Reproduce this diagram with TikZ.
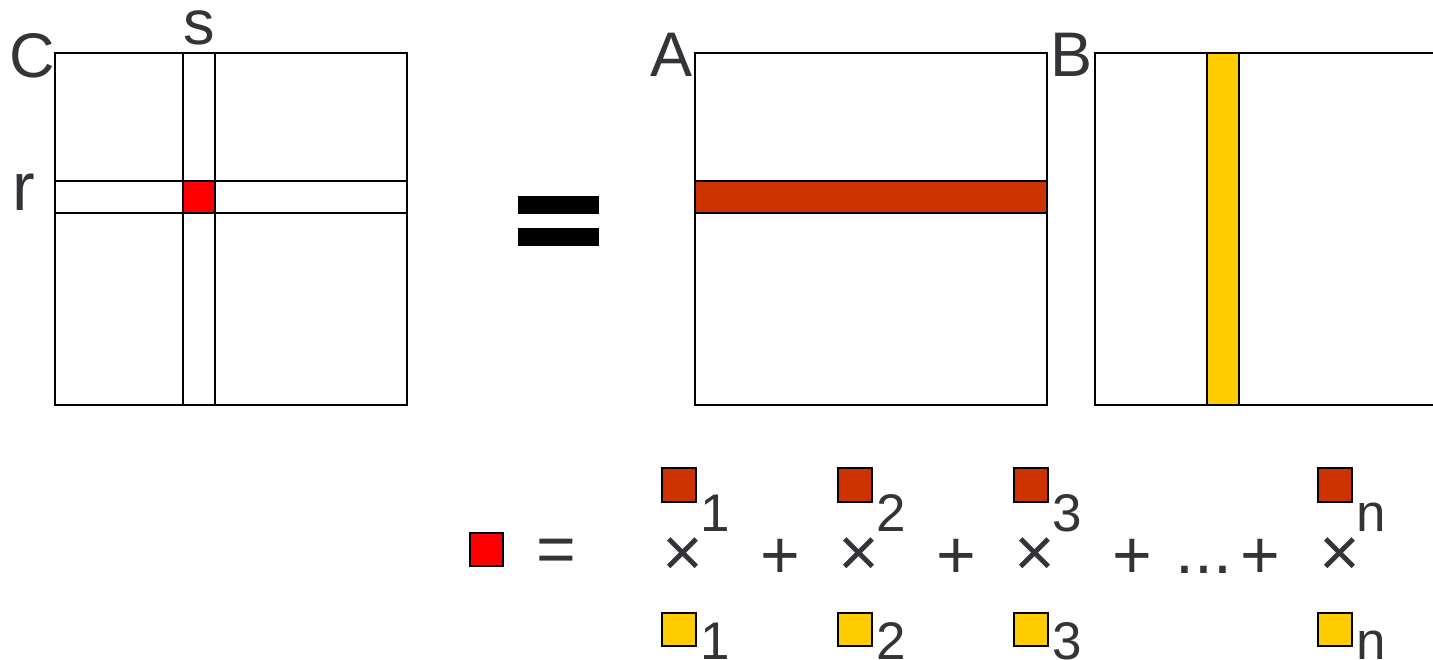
\documentclass[tikz,border=0pt]{standalone}
\usepackage{fontspec}
\setmainfont{Liberation Sans}
\definecolor{txt}{RGB}{52,52,56}
\definecolor{rowc}{RGB}{204,51,0}
\definecolor{colc}{RGB}{255,204,0}
\definecolor{cellc}{RGB}{255,0,0}
\begin{document}
\begin{tikzpicture}[x=1pt,y=-1pt,
  frame/.style={draw=black,line width=2pt},
  sq/.style={draw=black,line width=2pt},
  lbl/.style={text=txt,inner sep=0pt,font=\fontsize{63}{63}\selectfont},
  sub/.style={text=txt,inner sep=0pt,anchor=base west,font=\fontsize{53}{53}\selectfont},
  op/.style={text=txt,inner sep=0pt,font=\fontsize{68}{68}\selectfont},
  times/.style={text=txt,inner sep=0pt,font=\fontsize{70}{70}\selectfont}]
\useasboundingbox (0,0) rectangle (1433,660);
% matrix C
\draw[frame] (55,53) rectangle (407,405);
\draw[frame] (183,53) -- (183,405) (215,53) -- (215,405);
\draw[frame] (55,181) -- (407,181) (55,213) -- (407,213);
\draw[sq,fill=cellc] (183,181) rectangle (215,213);
\node[lbl,anchor=base west] (lC) at (9,78) {C};
\node[lbl,anchor=base] (ls) at (199,45) {s};
\node[lbl,anchor=base west,font=\fontsize{68}{68}\selectfont] (lr) at (12,211) {r};
% equals
\fill[black] (518,196) rectangle (599,214);
\fill[black] (518,228) rectangle (599,246);
% matrix A
\draw[frame] (695,53) rectangle (1047,405);
\draw[sq,fill=rowc] (695,181) rectangle (1047,213);
\node[lbl,anchor=base west] (lA) at (650,77) {A};
% matrix B
\draw[frame] (1440,53) -- (1095,53) -- (1095,405) -- (1440,405);
\draw[sq,fill=colc] (1207,53) rectangle (1239,405);
\node[lbl,anchor=base west] (lB) at (1050,77) {B};
% bottom formula
\draw[sq,fill=cellc] (470,533) rectangle (503,566);
\node[op] (eq) at (556,556) {=};
\foreach \x/\n/\xx in {662/1/683, 838/2/859, 1014/3/1035, 1318/n/1340}{
  \draw[sq,fill=rowc] (\x,468) rectangle (\x+34,502);
  \node[sub] at (\x+38,531) {\n};
  \node[times] at (\xx,557) {×};
  \draw[sq,fill=colc] (\x,613) rectangle (\x+34,646);
  \node[sub] at (\x+38,659) {\n};
}
\node[op] (p1) at (780,559) {+};
\node[op] (p2) at (956,559) {+};
\node[op] (p3) at (1132,559) {+};
\node[op,anchor=base] (dots) at (1204,573) {...};
\node[op] (p4) at (1260,559) {+};
\end{tikzpicture}
\end{document}
